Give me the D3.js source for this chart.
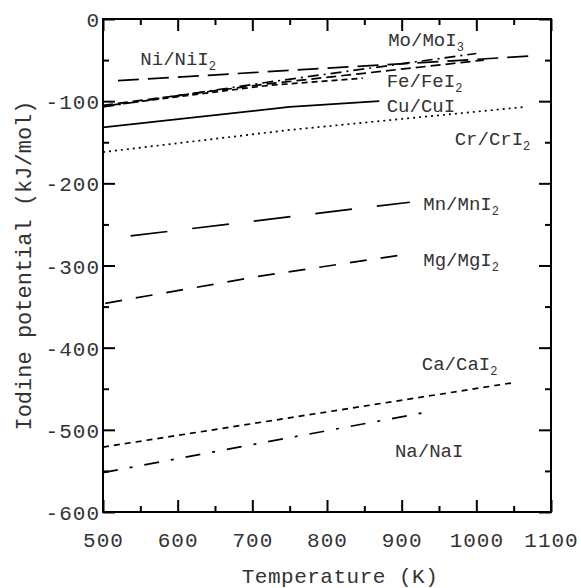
<!DOCTYPE html>
<html>
<head>
<meta charset="utf-8">
<script src="https://cdn.jsdelivr.net/npm/d3@7"></script>
<style>
  body { margin: 0; background: #fff; }
  text { font-family: "Liberation Mono", "DejaVu Sans Mono", monospace; fill: #333; }
</style>
</head>
<body>
<div id="chart"></div>
<script>
const width = 581;
const height = 588;

// [temperature K, iodine potential kJ/mol]
const niNiI2 = [[520, -75], [1075, -45]];
const moMoI3 = [[500, -107], [720, -77], [1000, -42]];
const unlabelled = [[500, -105], [720, -79], [1010, -50]];
const feFeI2 = [[500, -106], [720, -81], [848, -72]];
const cuCuI = [[500, -132], [750, -107], [870, -100]];
const crCrI2 = [[500, -162], [750, -135], [1065, -107]];
const mnMnI2 = [[537, -264], [911, -223]];
const mgMgI2 = [[503, -346], [710, -313], [908, -286]];
const caCaI2 = [[500, -521], [1047, -443]];
const naNaI = [[500, -552], [930, -479]];

const xTicks = [500, 600, 700, 800, 900, 1000, 1100];
const yTicks = [0, -100, -200, -300, -400, -500, -600];

// label text, subscript, anchor in data units
const labels = [
  ["Ni/NiI", "2", 550, -56],
  ["Mo/MoI", "3", 882, -33],
  ["Fe/FeI", "2", 880, -83],
  ["Cu/CuI", "", 880, -113],
  ["Cr/CrI", "2", 971, -153],
  ["Mn/MnI", "2", 929, -232],
  ["Mg/MgI", "2", 929, -301],
  ["Ca/CaI", "2", 927, -427],
  ["Na/NaI", "", 891, -533]
];

const lines = [
  { data: niNiI2, dash: "21,9" },
  { data: moMoI3, dash: "11,5,2,5" },
  { data: unlabelled, dash: "10,5" },
  { data: feFeI2, dash: "6,4" },
  { data: cuCuI, dash: null },
  { data: crCrI2, dash: "2,4" },
  { data: mnMnI2, dash: "37,25" },
  { data: mgMgI2, dash: "17,14" },
  { data: caCaI2, dash: "6,5" },
  { data: naNaI, dash: "15,12,3,12" }
];

const margin = { top: 19, right: 30, bottom: 76, left: 103 };

const svg = d3.select("#chart")
  .append("svg")
  .attr("width", width)
  .attr("height", height);

const x = d3.scaleLinear().domain([500, 1100]).range([margin.left, width - margin.right]);
const y = d3.scaleLinear().domain([-600, 0]).range([height - margin.bottom, margin.top]);

const x0 = x.range()[0], x1 = x.range()[1];
const y0 = y.range()[1], y1 = y.range()[0];

const minorX = d3.range(550, 1100, 100);
const minorY = d3.range(-550, 0, 100);

// ticks inward on all four sides
function ticks(axis, transform, vals, size, labelled) {
  const g = svg.append("g")
    .attr("transform", transform)
    .call(axis.tickValues(vals).tickSize(size).tickPadding(labelled ? 10 : 0)
      .tickFormat(labelled ? d => String(d) : ""));
  g.select(".domain").remove();
  g.selectAll(".tick line").attr("stroke", "#000").attr("stroke-width", 2);
  g.selectAll(".tick text")
    .style("font-size", "21px")
    .style("letter-spacing", "1px")
    .attr("fill", "#333");
  return g;
}

const gb = ticks(d3.axisBottom(x), `translate(0,${y1})`, xTicks, -12, true);
gb.selectAll(".tick text").attr("dy", "0.95em").attr("y", 15);
ticks(d3.axisBottom(x), `translate(0,${y1})`, minorX, -6, false);
ticks(d3.axisTop(x), `translate(0,${y0})`, xTicks, -12, false);
ticks(d3.axisTop(x), `translate(0,${y0})`, minorX, -6, false);

const gl = ticks(d3.axisLeft(y), `translate(${x0},0)`, yTicks, -12, true);
gl.selectAll(".tick text").attr("x", -3).attr("dy", "0.36em");
ticks(d3.axisLeft(y), `translate(${x0},0)`, minorY, -6, false);
ticks(d3.axisRight(y), `translate(${x1},0)`, yTicks, -12, false);
ticks(d3.axisRight(y), `translate(${x1},0)`, minorY, -6, false);

svg.append("rect")
  .attr("x", x0).attr("y", y0)
  .attr("width", x1 - x0).attr("height", y1 - y0)
  .attr("fill", "none").attr("stroke", "#000").attr("stroke-width", 2);

const line = d3.line().x(d => x(d[0])).y(d => y(d[1]));

svg.selectAll(".series")
  .data(lines)
  .enter().append("path")
  .attr("class", "series")
  .attr("d", d => line(d.data))
  .attr("fill", "none")
  .attr("stroke", "#000")
  .attr("stroke-width", 1.7)
  .attr("stroke-dasharray", d => d.dash);

const lab = svg.selectAll(".lab")
  .data(labels)
  .enter().append("text")
  .attr("class", "lab")
  .attr("x", d => x(d[2]))
  .attr("y", d => y(d[3]))
  .style("font-size", "19px");
lab.append("tspan").text(d => d[0]);
lab.append("tspan")
  .attr("dy", 5)
  .style("font-size", "12px")
  .text(d => d[1]);

// axis titles
svg.append("text")
  .attr("x", 340)
  .attr("y", 583)
  .attr("text-anchor", "middle")
  .style("font-size", "21px")
  .style("letter-spacing", "0.5px")
  .text("Temperature (K)");

svg.append("text")
  .attr("transform", `translate(31,${(y0 + y1) / 2}) rotate(-90)`)
  .attr("text-anchor", "middle")
  .style("font-size", "22px")
  .text("Iodine potential (kJ/mol)");
</script>
</body>
</html>
